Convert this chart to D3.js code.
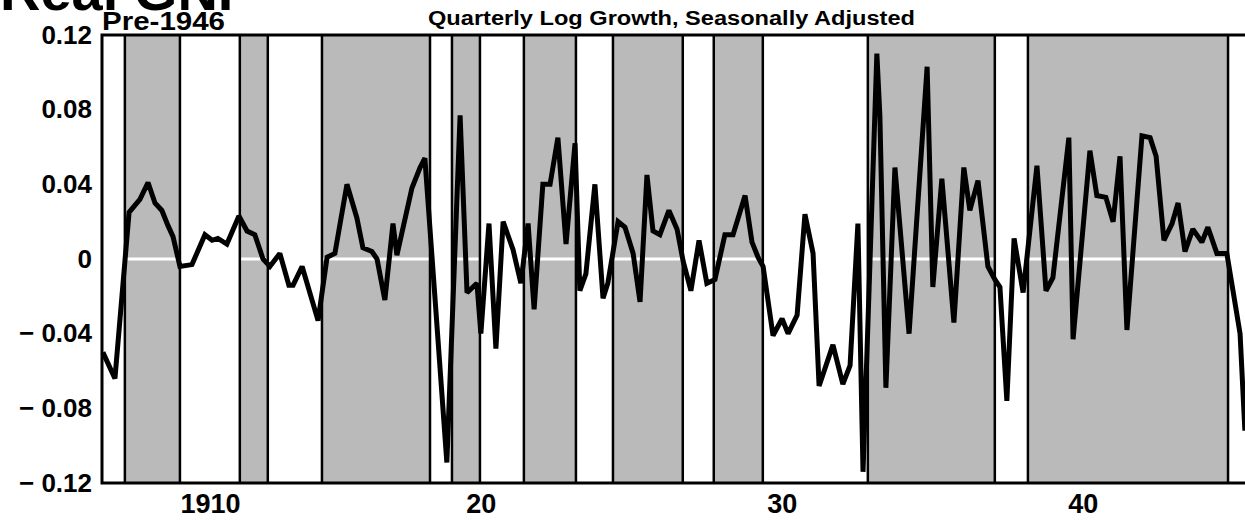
<!DOCTYPE html>
<html>
<head>
<meta charset="utf-8">
<script src="https://cdn.jsdelivr.net/npm/d3@7"></script>
<style>
  html, body { margin: 0; padding: 0; background: #fff; }
  svg text { font-family: "Liberation Sans", Arial, Helvetica, sans-serif; font-weight: bold; fill: #000; }
</style>
</head>
<body>
<div id="chart"></div>
<script>
// quarterly log growth (vertex by vertex)
const growthYears = [
  1907.69, 1908.09, 1908.56, 1908.92, 1909.19, 1909.42, 1909.65, 1909.85, 1910.02, 1910.25,
  1910.65, 1911.08, 1911.32, 1911.51, 1911.81, 1912.21, 1912.48, 1912.74, 1913.01, 1913.24,
  1913.57, 1913.87, 1914.01, 1914.31, 1914.84, 1915.14, 1915.40, 1915.80, 1916.13, 1916.33,
  1916.63, 1916.80, 1917.06, 1917.33, 1917.46, 1917.96, 1918.23, 1918.39, 1919.12, 1919.56,
  1919.79, 1920.12, 1920.25, 1920.52, 1920.75, 1920.99, 1921.32, 1921.58, 1921.82, 1922.02,
  1922.31, 1922.55, 1922.81, 1923.08, 1923.38, 1923.54, 1923.74, 1924.04, 1924.31, 1924.47,
  1924.81, 1925.04, 1925.31, 1925.54, 1925.77, 1925.97, 1926.20, 1926.50, 1926.77, 1926.97,
  1927.23, 1927.50, 1927.76, 1928.03, 1928.36, 1928.63, 1929.03, 1929.26, 1929.46, 1929.63,
  1929.96, 1930.26, 1930.46, 1930.76, 1931.02, 1931.29, 1931.49, 1931.95, 1932.28, 1932.52,
  1932.78, 1932.95, 1933.41, 1933.51, 1933.71, 1934.01, 1934.48, 1935.08, 1935.27, 1935.57,
  1935.97, 1936.30, 1936.50, 1936.77, 1937.10, 1937.33, 1937.50, 1937.73, 1937.97, 1938.27,
  1938.73, 1939.03, 1939.26, 1939.79, 1939.93, 1940.49, 1940.72, 1941.02, 1941.26, 1941.49,
  1941.72, 1942.22, 1942.49, 1942.69, 1942.95, 1943.22, 1943.42, 1943.65, 1943.91, 1944.21,
  1944.41, 1944.71, 1945.04, 1945.48, 1945.64
];
const growthValues = [
  -0.050, -0.064, 0.025, 0.032, 0.041, 0.030, 0.026, 0.018, 0.012, -0.004,
  -0.003, 0.013, 0.010, 0.011, 0.008, 0.023, 0.015, 0.013, 0.000, -0.004,
  0.003, -0.014, -0.014, -0.004, -0.033, 0.001, 0.003, 0.040, 0.022, 0.006,
  0.004, 0.000, -0.022, 0.019, 0.002, 0.038, 0.049, 0.054, -0.109, 0.077,
  -0.018, -0.013, -0.040, 0.019, -0.048, 0.020, 0.005, -0.013, 0.019, -0.027,
  0.040, 0.040, 0.065, 0.008, 0.062, -0.017, -0.008, 0.040, -0.021, -0.013,
  0.020, 0.017, 0.003, -0.023, 0.045, 0.015, 0.013, 0.026, 0.016, -0.001,
  -0.017, 0.010, -0.013, -0.011, 0.013, 0.013, 0.034, 0.009, 0.001, -0.004,
  -0.041, -0.032, -0.040, -0.030, 0.024, 0.003, -0.068, -0.046, -0.067, -0.057,
  0.019, -0.114, 0.110, 0.077, -0.069, 0.049, -0.040, 0.103, -0.015, 0.043,
  -0.034, 0.049, 0.026, 0.042, -0.004, -0.011, -0.015, -0.076, 0.011, -0.018,
  0.050, -0.017, -0.010, 0.065, -0.043, 0.058, 0.034, 0.033, 0.020, 0.055,
  -0.038, 0.066, 0.065, 0.055, 0.010, 0.019, 0.030, 0.004, 0.016, 0.009,
  0.017, 0.003, 0.003, -0.040, -0.092
];

// shaded periods (expansions), start / end in years
const expansionStarts = [1908.42, 1912.24, 1914.97, 1919.29, 1921.68, 1924.64, 1927.99, 1933.11, 1938.43];
const expansionEnds   = [1910.25, 1913.17, 1918.56, 1920.22, 1923.41, 1926.96, 1929.62, 1937.33, 1945.08];

const yTicks = [0.12, 0.08, 0.04, 0, -0.04, -0.08, -0.12];
const yTickLabels = ["0.12", "0.08", "0.04", "0", "\u2212 0.04", "\u2212 0.08", "\u2212 0.12"];
const xTickYears = [1911.25, 1920.25, 1930.25, 1940.25];
const xTickLabels = ["1910", "20", "30", "40"];

const W = 1245, H = 520;
const margin = { left: 102, right: -5, top: 35, bottom: 37 };

const svg = d3.select("#chart").append("svg")
  .attr("width", W)
  .attr("height", H);

const x = d3.scaleLinear()
  .domain([1907.66, 1945.81])
  .range([margin.left, W - margin.right]);

const y = d3.scaleLinear()
  .domain([-0.12, 0.12])
  .range([H - margin.bottom, margin.top]);

const y0 = y.range()[1], y1 = y.range()[0];

// shaded bands
const bands = expansionStarts.map((s, i) => ({ s, e: expansionEnds[i] }));
svg.append("g").selectAll("rect")
  .data(bands)
  .join("rect")
  .attr("x", d => x(d.s))
  .attr("y", y0)
  .attr("width", d => x(d.e) - x(d.s))
  .attr("height", y1 - y0)
  .attr("fill", "#bababa");

// white zero line through the shading
svg.append("line")
  .attr("x1", x.range()[0]).attr("x2", x.range()[1])
  .attr("y1", y(0)).attr("y2", y(0))
  .attr("stroke", "#fff")
  .attr("stroke-width", 3);

// band edges
const edges = expansionStarts.concat(expansionEnds);
svg.append("g").selectAll("line")
  .data(edges)
  .join("line")
  .attr("x1", d => x(d)).attr("x2", d => x(d))
  .attr("y1", y0).attr("y2", y1)
  .attr("stroke", "#000")
  .attr("stroke-width", 2.5);

// frame: left, top, bottom
svg.append("path")
  .attr("d", `M${W + 5},${y0}H${x.range()[0]}V${y1}H${W + 5}`)
  .attr("fill", "none")
  .attr("stroke", "#000")
  .attr("stroke-width", 3);

// growth line
const pts = growthYears.map((t, i) => [t, growthValues[i]]);
svg.append("path")
  .datum(pts)
  .attr("d", d3.line().x(d => x(d[0])).y(d => y(d[1])))
  .attr("fill", "none")
  .attr("stroke", "#000")
  .attr("stroke-width", 5)
  .attr("stroke-linejoin", "miter")
  .attr("stroke-miterlimit", 2);

// axes
const yAxis = svg.append("g")
  .attr("transform", `translate(${margin.left},0)`)
  .call(d3.axisLeft(y).tickValues(yTicks).tickSize(0).tickPadding(10)
    .tickFormat((d, i) => yTickLabels[i]));
yAxis.select(".domain").remove();
yAxis.selectAll("text").attr("font-size", 26).attr("font-family", null).attr("fill", "#000");

const xAxis = svg.append("g")
  .attr("transform", `translate(0,${y1})`)
  .call(d3.axisBottom(x).tickValues(xTickYears).tickSize(0).tickPadding(11)
    .tickFormat((d, i) => xTickLabels[i]));
xAxis.select(".domain").remove();
xAxis.selectAll("text").attr("font-size", 27).attr("font-family", null).attr("fill", "#000");

// titles (the big one is cut off by the top edge, as in the source)
svg.append("text")
  .attr("x", 0).attr("y", 10)
  .attr("font-size", 56)
  .text("Real GNP");

svg.append("text")
  .attr("x", 102).attr("y", 30)
  .attr("font-size", 25)
  .attr("textLength", 123)
  .attr("lengthAdjust", "spacingAndGlyphs")
  .text("Pre-1946");

svg.append("text")
  .attr("x", 428).attr("y", 25)
  .attr("font-size", 20)
  .attr("textLength", 487)
  .attr("lengthAdjust", "spacingAndGlyphs")
  .text("Quarterly Log Growth, Seasonally Adjusted");
</script>
</body>
</html>
